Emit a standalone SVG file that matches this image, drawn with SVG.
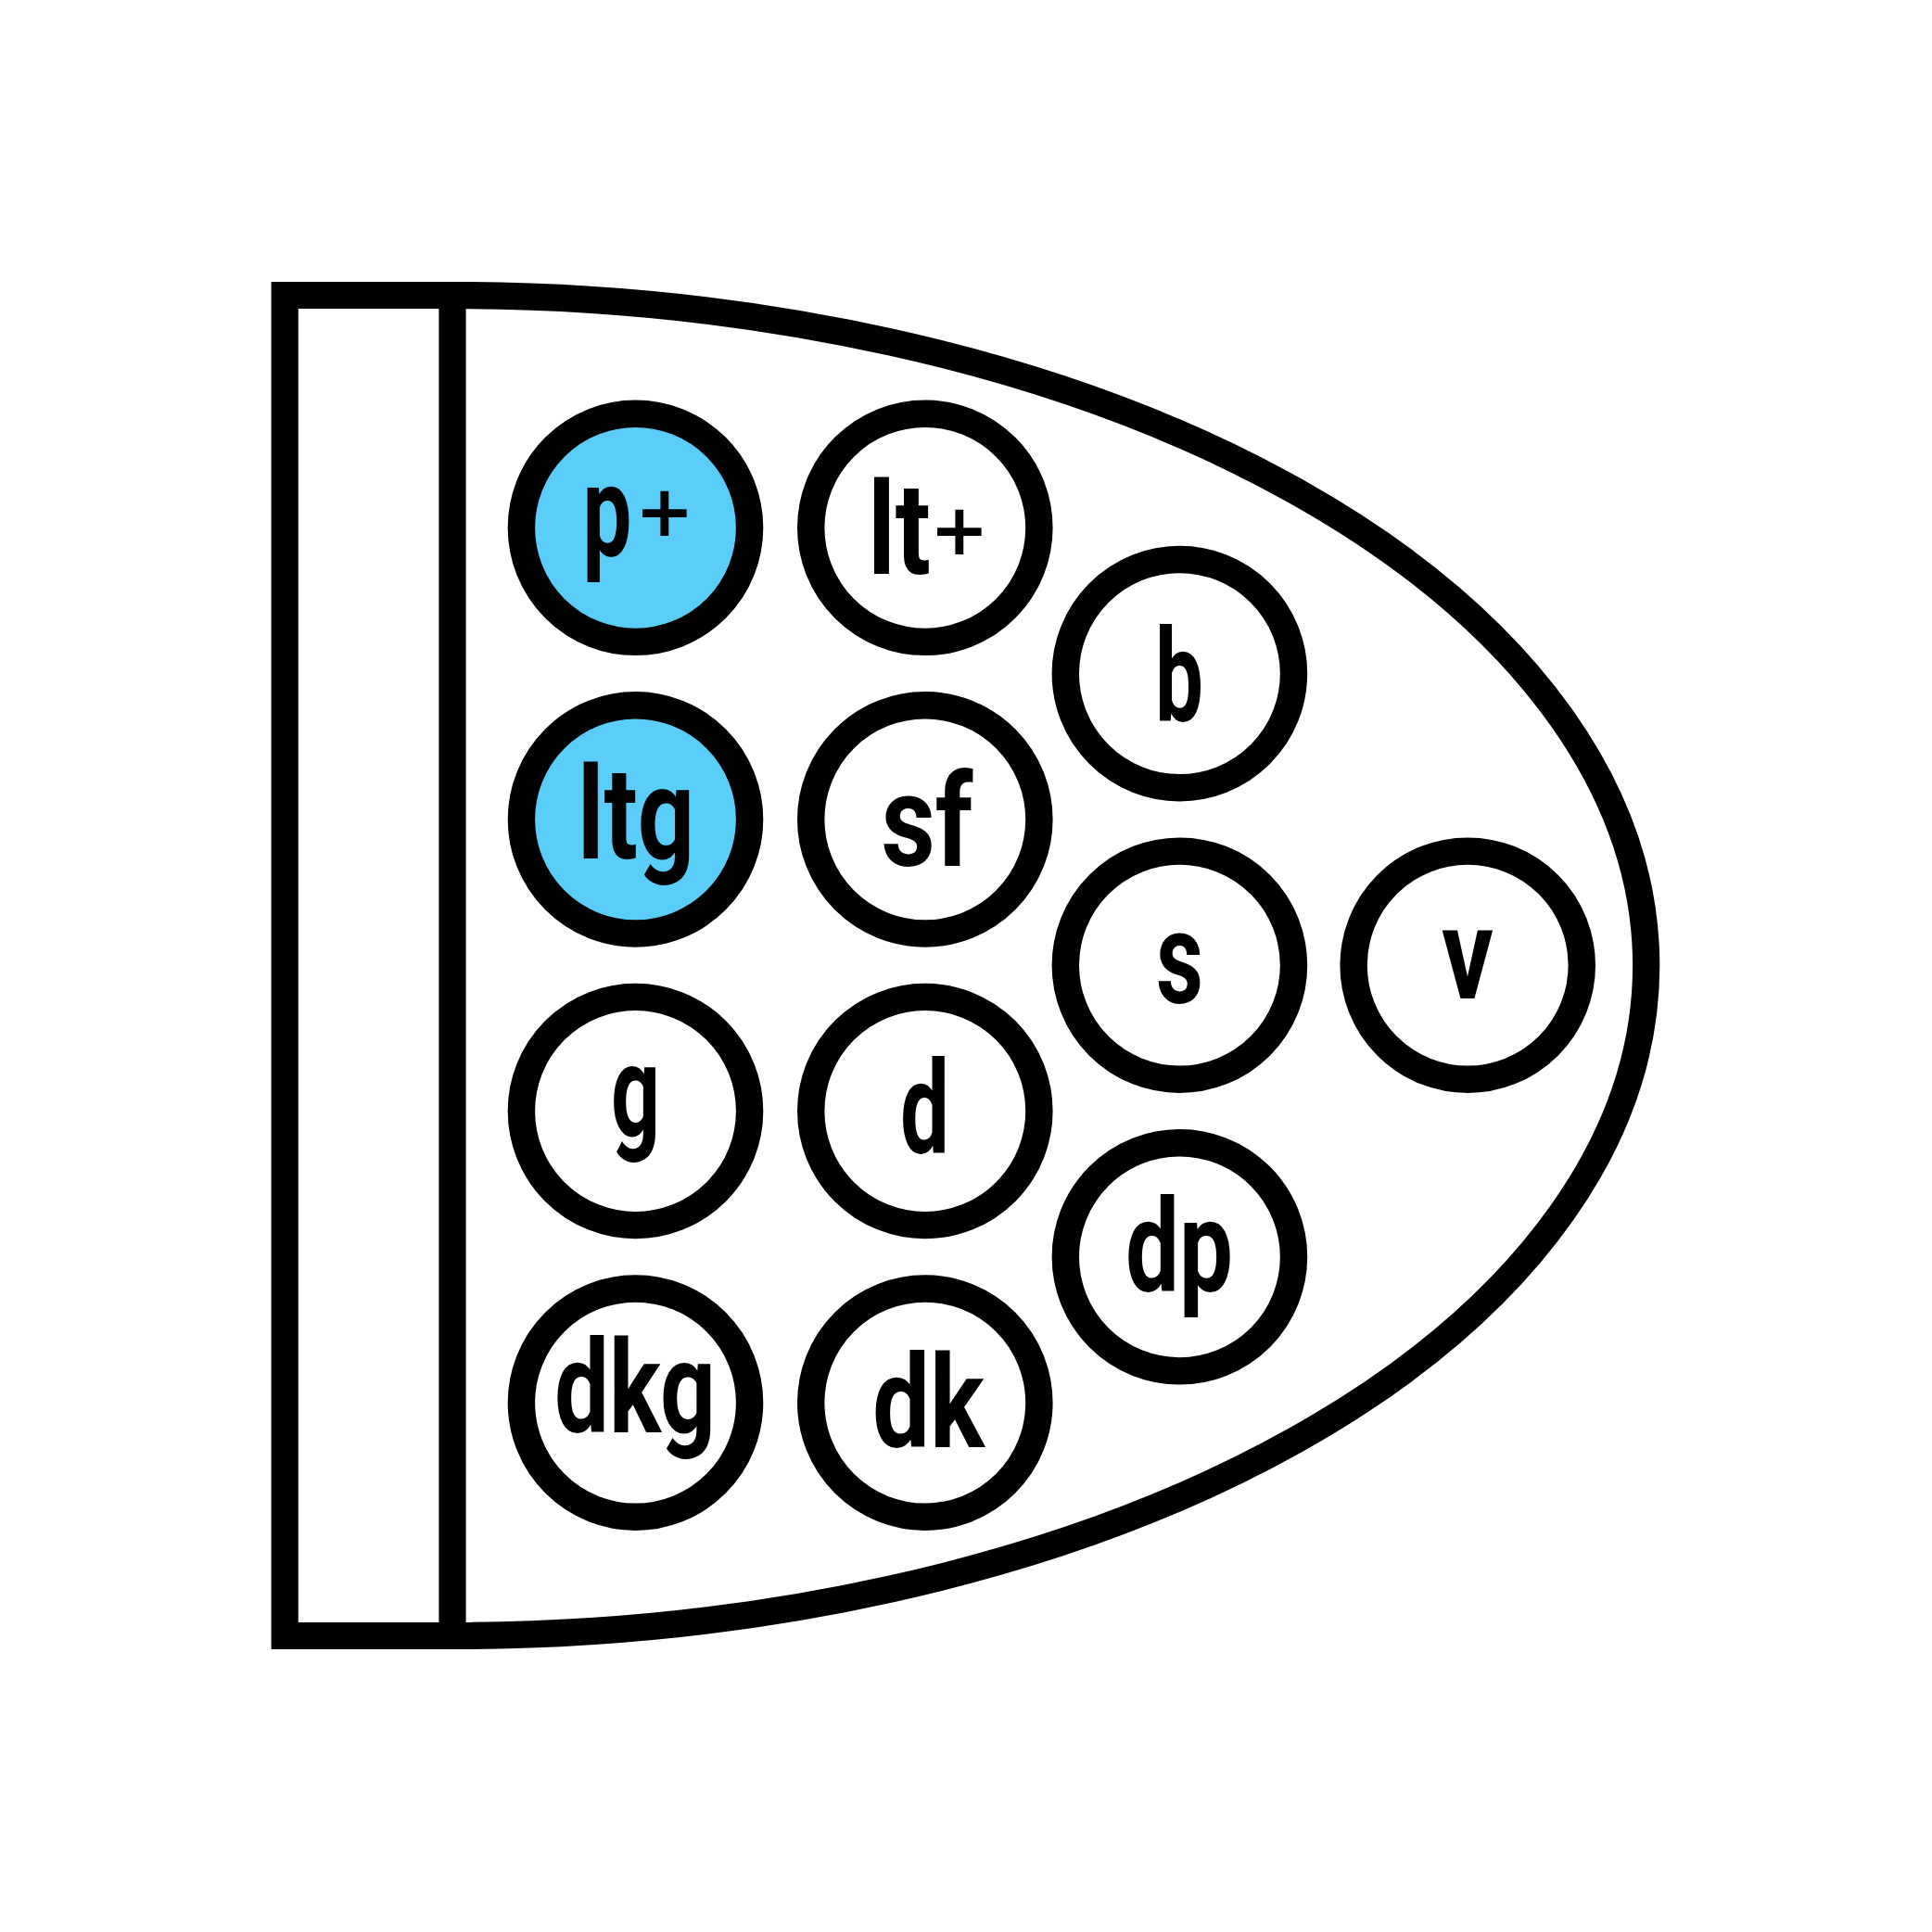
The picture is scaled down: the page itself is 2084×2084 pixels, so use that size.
<svg xmlns="http://www.w3.org/2000/svg" width="2084" height="2084" viewBox="0 0 2084 2084">
  <style>
    .frame { fill: none; stroke: #000; stroke-width: 29.2; stroke-linejoin: miter; }
    .ring { fill: #fff; stroke: #000; stroke-width: 29.4; }
    .ring.hi { fill: #5ACDF8; }
    .lbl { font-family: Roboto, "DejaVu Sans", sans-serif; font-weight: bold; font-size: 140px; fill: #000; }
    .plus { font-family: "DejaVu Sans", sans-serif; font-size: 76px; }
  </style>
  <rect width="2084" height="2084" fill="#fff"/>
  <g id="frame">
    <path class="frame" d="M488 318.5 H307.2 V1764.5 H488"/>
    <path class="frame" d="M488 318.5 A1287.7 723 0 0 1 488 1764.5"/>
    <line class="frame" x1="488" y1="318.5" x2="488" y2="1764.5"/>
  </g>
  <g id="connectors"/>
  <g id="node-p-plus">
    <circle class="ring hi" cx="685.5" cy="569.3" r="123.1"/>
    <text class="lbl" x="628.5" y="600"><tspan textLength="53" lengthAdjust="spacingAndGlyphs">p</tspan><tspan class="plus" x="685" y="578.4">+</tspan></text>
  </g>
  <g id="node-lt-plus">
    <circle class="ring" cx="997.8" cy="569.3" r="123.1"/>
    <text class="lbl" x="936" y="619.3"><tspan textLength="68" lengthAdjust="spacingAndGlyphs">lt</tspan><tspan class="plus" x="1003" y="598.3">+</tspan></text>
  </g>
  <g id="node-ltg">
    <circle class="ring hi" cx="685.5" cy="883.9" r="123.1"/>
    <text class="lbl" x="623" y="926" textLength="126" lengthAdjust="spacingAndGlyphs">ltg</text>
  </g>
  <g id="node-sf">
    <circle class="ring" cx="997.8" cy="883.9" r="123.1"/>
    <text class="lbl" x="950.5" y="933.7" textLength="99" lengthAdjust="spacingAndGlyphs">sf</text>
  </g>
  <g id="node-g">
    <circle class="ring" cx="685.5" cy="1198.5" r="123.1"/>
    <text class="lbl" x="659" y="1225" textLength="53" lengthAdjust="spacingAndGlyphs">g</text>
  </g>
  <g id="node-d">
    <circle class="ring" cx="997.8" cy="1198.5" r="123.1"/>
    <text class="lbl" x="971" y="1244.4" textLength="53" lengthAdjust="spacingAndGlyphs">d</text>
  </g>
  <g id="node-dkg">
    <circle class="ring" cx="685.5" cy="1513.1" r="123.1"/>
    <text class="lbl" x="598" y="1545.2" textLength="174" lengthAdjust="spacingAndGlyphs">dkg</text>
  </g>
  <g id="node-dk">
    <circle class="ring" cx="997.8" cy="1513.1" r="123.1"/>
    <text class="lbl" x="941" y="1560.9" textLength="121" lengthAdjust="spacingAndGlyphs">dk</text>
  </g>
  <g id="node-b">
    <circle class="ring" cx="1272.4" cy="726.6" r="123.1"/>
    <text class="lbl" x="1246" y="778" textLength="52" lengthAdjust="spacingAndGlyphs">b</text>
  </g>
  <g id="node-s">
    <circle class="ring" cx="1272.4" cy="1041.2" r="123.1"/>
    <text class="lbl" x="1247" y="1082" textLength="51" lengthAdjust="spacingAndGlyphs">s</text>
  </g>
  <g id="node-dp">
    <circle class="ring" cx="1272.4" cy="1355.8" r="123.1"/>
    <text class="lbl" x="1214" y="1392.8" textLength="116" lengthAdjust="spacingAndGlyphs">dp</text>
  </g>
  <g id="node-v">
    <circle class="ring" cx="1583.2" cy="1041.2" r="123.1"/>
    <text class="lbl" x="1555" y="1076.5" textLength="56" lengthAdjust="spacingAndGlyphs">v</text>
  </g>
</svg>
